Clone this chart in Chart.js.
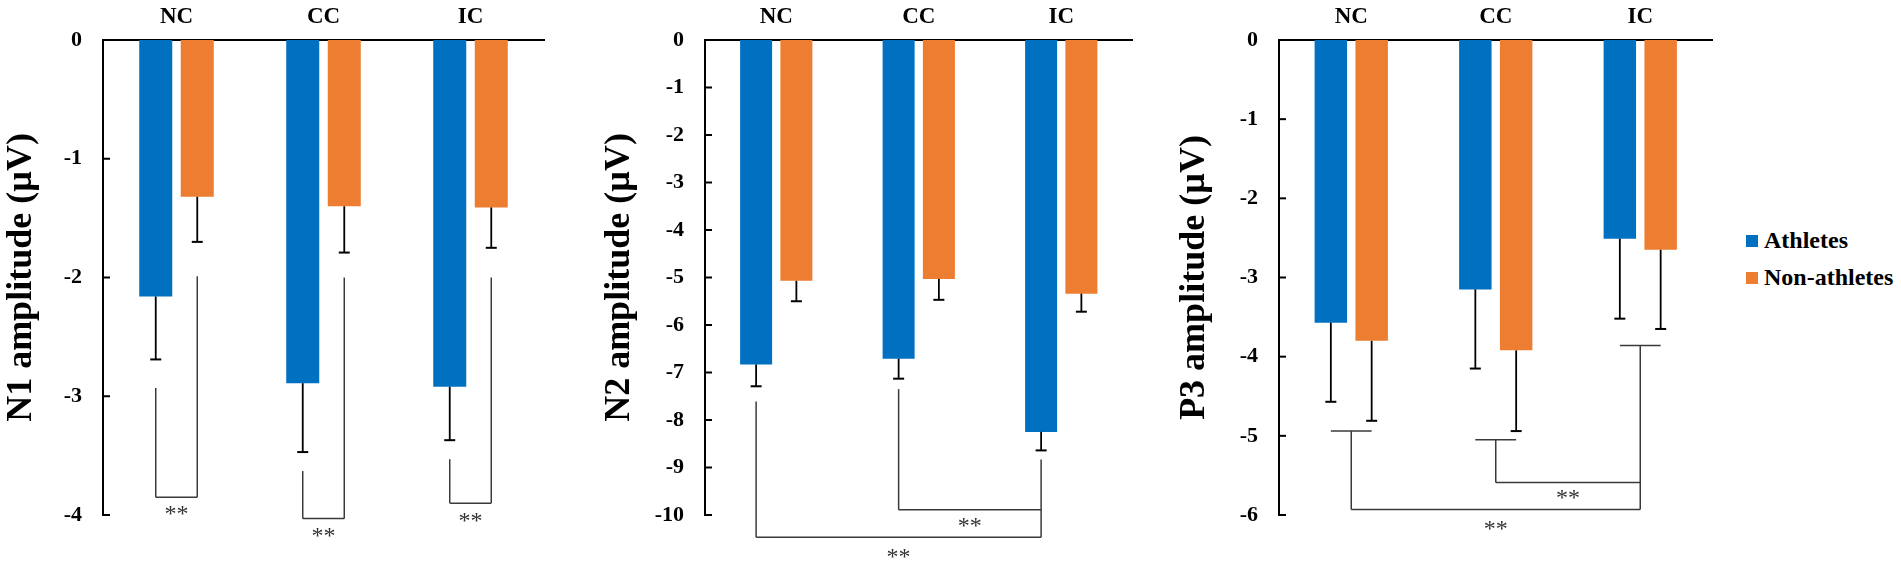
<!DOCTYPE html>
<html>
<head>
<meta charset="utf-8">
<script src="https://cdn.jsdelivr.net/npm/chart.js@4.4.0/dist/chart.umd.min.js"></script>
<style>
  html, body { margin: 0; padding: 0; background: #fff; }
  body { width: 1901px; height: 566px; position: relative; overflow: hidden; }
  .panel { position: absolute; top: 0; width: 560px; height: 566px; }
  #legend { position: absolute; left: 1746px; top: 222px; font: bold 24px "Liberation Serif", "Times New Roman", serif; color: #000; }
  .item { display: flex; align-items: center; height: 37px; white-space: nowrap; }
  .swatch { width: 12px; height: 12px; margin-right: 6px; }
</style>
</head>
<body>
<div class="panel" style="left:0px"><canvas id="n1"></canvas></div>
<div class="panel" style="left:600px"><canvas id="n2"></canvas></div>
<div class="panel" style="left:1173px"><canvas id="p3"></canvas></div>
<div id="legend"></div>
<script>
// categories and groups
const categories = ['NC', 'CC', 'IC'];
const seriesNames = ['Athletes', 'Non-athletes'];
const seriesColors = ['#0070C0', '#ED7D31'];

// N1 amplitude (µV), mean and SE
const n1Athletes = [-2.16, -2.89, -2.92];
const n1AthletesErr = [0.53, 0.58, 0.45];
const n1NonAthletes = [-1.32, -1.40, -1.41];
const n1NonAthletesErr = [0.38, 0.39, 0.34];

// N2 amplitude (µV)
const n2Athletes = [-6.83, -6.71, -8.25];
const n2AthletesErr = [0.46, 0.42, 0.39];
const n2NonAthletes = [-5.07, -5.03, -5.34];
const n2NonAthletesErr = [0.43, 0.44, 0.38];

// P3 amplitude (µV)
const p3Athletes = [-3.57, -3.15, -2.51];
const p3AthletesErr = [1.00, 1.00, 1.01];
const p3NonAthletes = [-3.80, -3.92, -2.65];
const p3NonAthletesErr = [1.01, 1.02, 1.00];

// significance brackets, in axis values
const n1Pairs = [
  { cat: 0, athTop: -2.93, nonTop: -1.99, level: -3.85, star: -3.97 },
  { cat: 1, athTop: -3.63, nonTop: -2.00, level: -4.03, star: -4.16 },
  { cat: 2, athTop: -3.53, nonTop: -2.00, level: -3.90, star: -4.03 }
];
const n2Links = [
  { from: 0, to: 2, fromTop: -7.61, toTop: -8.83, level: -10.47, star: -10.83 },
  { from: 1, to: 2, fromTop: -7.35, toTop: null, level: -9.89, star: -10.18 }
];
const p3Caps = [-4.94, -5.05, -3.86];
const p3Links = [
  { from: 1, to: 2, level: -5.59, star: -5.76 },
  { from: 0, to: 2, level: -5.93, star: -6.15 }
];

const SERIF = '"Liberation Serif", "Times New Roman", serif';

// error bars, only on the negative side
const errorBars = {
  id: 'errorBars',
  afterDatasetsDraw(chart) {
    const ctx = chart.ctx, y = chart.scales.y;
    ctx.save();
    ctx.strokeStyle = '#000';
    chart.data.datasets.forEach((ds, i) => {
      chart.getDatasetMeta(i).data.forEach((bar, j) => {
        const yEnd = y.getPixelForValue(ds.data[j] - ds.errors[j]);
        ctx.lineWidth = 1.8;
        ctx.beginPath(); ctx.moveTo(bar.x, bar.y); ctx.lineTo(bar.x, yEnd); ctx.stroke();
        ctx.lineWidth = 2;
        ctx.beginPath(); ctx.moveTo(bar.x - 5.5, yEnd); ctx.lineTo(bar.x + 5.5, yEnd); ctx.stroke();
      });
    });
    ctx.restore();
  }
};

// tick marks pointing into the plot
const innerTicks = {
  id: 'innerTicks',
  afterDraw(chart) {
    const ctx = chart.ctx, y = chart.scales.y, left = chart.chartArea.left;
    ctx.save();
    ctx.strokeStyle = '#000';
    ctx.lineWidth = 2;
    y.ticks.forEach(t => {
      const py = y.getPixelForValue(t.value);
      ctx.beginPath(); ctx.moveTo(left, py); ctx.lineTo(left + 7, py); ctx.stroke();
    });
    ctx.restore();
  }
};

function bracketPlugin(draw) {
  return {
    id: 'brackets',
    afterDraw(chart) {
      const ctx = chart.ctx;
      const h = {
        py: v => chart.scales.y.getPixelForValue(v),
        cx: c => chart.scales.x.getPixelForValue(c),
        bx: (ds, c) => chart.getDatasetMeta(ds).data[c].x,
        line(x1, y1, x2, y2) { ctx.beginPath(); ctx.moveTo(x1, y1); ctx.lineTo(x2, y2); ctx.stroke(); },
        star(x, y) { ctx.fillText('**', x, y + 3); }
      };
      ctx.save();
      ctx.strokeStyle = '#3a3a3a';
      ctx.lineWidth = 1.5;
      ctx.fillStyle = '#333';
      ctx.font = '24px ' + SERIF;
      ctx.textAlign = 'center';
      ctx.textBaseline = 'middle';
      draw(h);
      ctx.restore();
    }
  };
}

function makePanel(id, title, ath, athErr, non, nonErr, min, yWidth, titlePad, padRight, draw) {
  return new Chart(document.getElementById(id), {
    type: 'bar',
    data: {
      labels: categories,
      datasets: [
        { label: seriesNames[0], data: ath, errors: athErr, backgroundColor: seriesColors[0],
          categoryPercentage: 0.565, barPercentage: 0.795 },
        { label: seriesNames[1], data: non, errors: nonErr, backgroundColor: seriesColors[1],
          categoryPercentage: 0.565, barPercentage: 0.795 }
      ]
    },
    options: {
      responsive: true,
      maintainAspectRatio: false,
      animation: false,
      layout: { padding: { left: 0, top: 0, right: padRight, bottom: 51 } },
      plugins: { legend: { display: false }, tooltip: { enabled: false } },
      scales: {
        x: {
          position: 'top',
          grid: { display: false, drawTicks: false },
          border: { display: true, color: '#000', width: 2 },
          ticks: { color: '#000', padding: 9, font: { family: SERIF, size: 23, weight: 'bold' } },
          afterFit: s => { s.height = 40; }
        },
        y: {
          min: min,
          max: 0,
          grid: { display: false, drawTicks: false },
          border: { display: true, color: '#000', width: 2 },
          ticks: { stepSize: 1, color: '#000', padding: 21, font: { family: SERIF, size: 22, weight: 'bold' } },
          title: { display: true, text: title, color: '#000', padding: { top: titlePad, bottom: 0 },
                   font: { family: SERIF, size: 36, weight: 'bold', lineHeight: 1 } },
          afterFit: s => { s.width = yWidth; }
        }
      }
    },
    plugins: [errorBars, innerTicks, bracketPlugin(draw)]
  });
}

makePanel('n1', 'N1 amplitude (µV)', n1Athletes, n1AthletesErr, n1NonAthletes, n1NonAthletesErr,
  -4, 103, 4, 16, h => {
    n1Pairs.forEach(p => {
      const xa = h.bx(0, p.cat), xn = h.bx(1, p.cat), yl = h.py(p.level);
      h.line(xa, h.py(p.athTop), xa, yl);
      h.line(xa, yl, xn, yl);
      h.line(xn, h.py(p.nonTop), xn, yl);
      h.star((xa + xn) / 2, h.py(p.star));
    });
  });

makePanel('n2', 'N2 amplitude (µV)', n2Athletes, n2AthletesErr, n2NonAthletes, n2NonAthletesErr,
  -10, 105, 2, 27.5, h => {
    n2Links.forEach(l => {
      const x1 = h.bx(0, l.from), x2 = h.bx(0, l.to), yl = h.py(l.level);
      h.line(x1, h.py(l.fromTop), x1, yl);
      h.line(x1, yl, x2, yl);
      if (l.toTop !== null) h.line(x2, h.py(l.toTop), x2, yl);
      h.star((x1 + x2) / 2, h.py(l.star));
    });
  });

makePanel('p3', 'P3 amplitude (µV)', p3Athletes, p3AthletesErr, p3NonAthletes, p3NonAthletesErr,
  -6, 106, 4, 20.5, h => {
    p3Caps.forEach((v, c) => {
      const yc = h.py(v);
      const low = Math.min(...p3Links.filter(l => l.from === c || l.to === c).map(l => l.level));
      h.line(h.bx(0, c), yc, h.bx(1, c), yc);
      h.line(h.cx(c), yc, h.cx(c), h.py(low));
    });
    p3Links.forEach(l => {
      const x1 = h.cx(l.from), x2 = h.cx(l.to), yl = h.py(l.level);
      h.line(x1, yl, x2, yl);
      h.star((x1 + x2) / 2, h.py(l.star));
    });
  });

// legend
const legend = document.getElementById('legend');
seriesNames.forEach((name, i) => {
  const item = document.createElement('div');
  item.className = 'item';
  const sw = document.createElement('span');
  sw.className = 'swatch';
  sw.style.background = seriesColors[i];
  const txt = document.createElement('span');
  txt.textContent = name;
  item.appendChild(sw);
  item.appendChild(txt);
  legend.appendChild(item);
});
</script>
</body>
</html>
